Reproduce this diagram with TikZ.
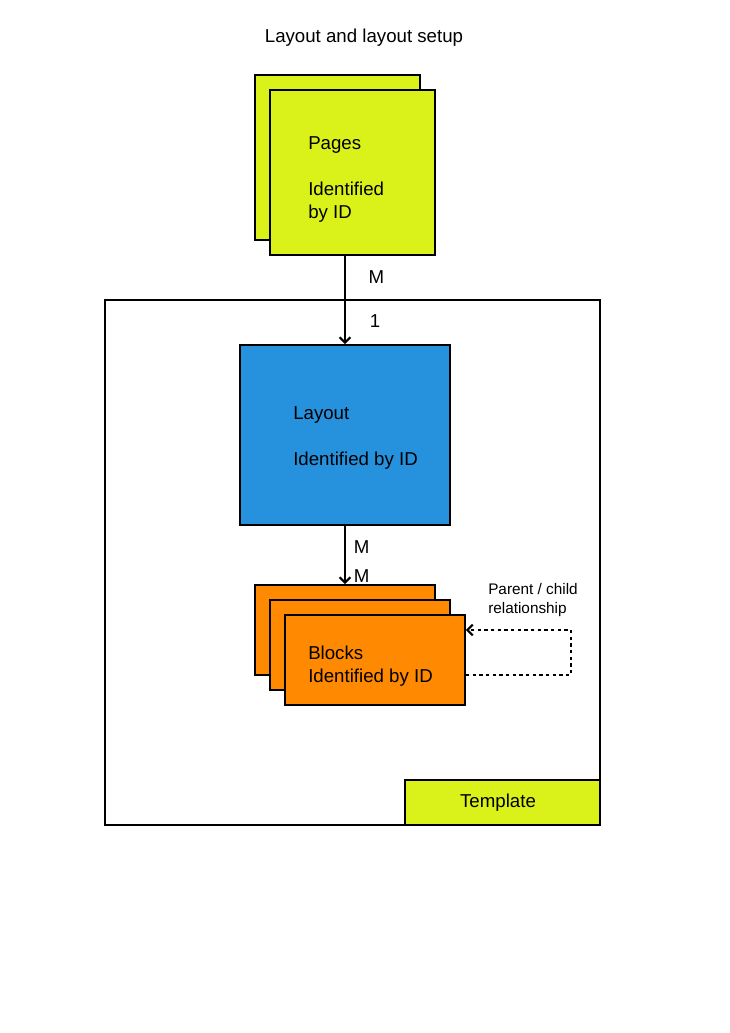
\documentclass[tikz,border=0pt]{standalone}
\usepackage{fontspec}
\setmainfont{Liberation Sans}
\usetikzlibrary{arrows.meta}

\definecolor{pageyellow}{RGB}{219,242,26}
\definecolor{layoutblue}{RGB}{38,146,221}
\definecolor{blockorange}{RGB}{255,137,0}

\tikzset{
  card/.style 2 args={draw, line width=1.4pt, inner sep=0pt,
    minimum width=#1*0.75pt, minimum height=#2*0.75pt},
  txt/.style={inner sep=0pt, align=left, font=\fontsize{14}{17.25}\selectfont},
  small/.style={inner sep=0pt, align=left, font=\fontsize{11.5}{14.25}\selectfont},
  link/.style={line width=1.4pt, -{Straight Barb[length=4pt,width=8pt,line width=1.6pt]}}
}

\begin{document}
\begin{tikzpicture}[x=0.75pt,y=-0.75pt]
            \useasboundingbox (0,0) rectangle (730,1033);

            \node[txt] (title) at (364,38) {Layout and layout setup};

            % template frame
            \node[card={495}{525}, fill=white] (template) at (352.5,562.5) {};
            \node[card={195}{45}, fill=pageyellow] (tag) at (502.5,802.5) {};
            \node[txt] (tagtext) at (498,802.5) {Template};

            % pages
            \node[card={165}{165}, fill=pageyellow] (pagesback) at (337.5,157.5) {};
            \node[card={165}{165}, fill=pageyellow] (pages) at (352.5,172.5) {};
            \node[txt, anchor=north west] (pagestext) at (308,136) {Pages\\[17.25pt]Identified\\by ID};

            % layout
            \node[card={210}{180}, fill=layoutblue] (layout) at (345,435) {};
            \node[txt, anchor=north west] (layouttext) at (293,406) {Layout\\[17.25pt]Identified by ID};

            % blocks
            \node[card={180}{90}, fill=blockorange] (blocksback) at (345,630) {};
            \node[card={180}{90}, fill=blockorange] (blocksmid) at (360,645) {};
            \node[card={180}{90}, fill=blockorange] (blocks) at (375,660) {};
            \node[txt, anchor=north west] (blockstext) at (308,646) {Blocks\\Identified by ID};

            % connectors
            \draw[link] (layout.north |- pages.south) -- (layout.north)
                node[txt, pos=0.24, anchor=west, xshift=17pt] {M}
                node[txt, pos=0.74, anchor=west, xshift=18pt] {1};
            \draw[link] (layout.south) -- (blocksback.north)
                node[txt, pos=0.37, anchor=west, xshift=6pt] {M}
                node[txt, pos=0.87, anchor=west, xshift=6pt] {M};

            \draw[link, dash pattern=on 2.5pt off 2.5pt]
                ([yshift=-11.25pt]blocks.east) -- ++(105,0)
                |- ([yshift=22.5pt]blocks.east);
            \node[small, anchor=west] (relation) at (488,600) {Parent / child\\relationship};

        \end{tikzpicture}
\end{document}
